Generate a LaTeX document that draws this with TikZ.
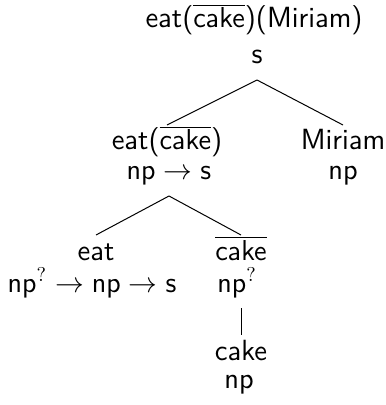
\documentclass[tikz,border=0pt]{standalone}
\renewcommand\familydefault{\sfdefault}
\begin{document}
\begin{tikzpicture}[x=0.5pt,y=-0.5pt,
  base/.style={anchor=base, inner sep=0pt, outer sep=0pt, font=\fontsize{14.6}{17}\selectfont},
  lab/.style={base, text height=12.5pt},
  typ/.style={base, text depth=8pt},
  edge/.style={draw=black, line width=0.5pt}]
\useasboundingbox (0,0) rectangle (385,405);
% root
\node[lab] (r)  at (254,28) {eat($\overline{\mathsf{cake}}$)(Miriam)};
\node[typ] (rt) at (257,64) {s};
% level 1
\node[lab] (ec)  at (167,150) {eat($\overline{\mathsf{cake}}$)};
\node[typ] (ect) at (169,180) {$\mathsf{np}\to\mathsf{s}$};
\node[lab] (mi)  at (343,150) {Miriam};
\node[typ] (mit) at (343,180) {np};
% level 2
\node[lab] (eat)  at (96,260) {eat};
\node[typ] (eatt) at (92,292) {$\mathsf{np}^?\to\mathsf{np}\to\mathsf{s}$};
\node[lab] (ck)   at (241,260) {$\overline{\mathsf{cake}}$};
\node[typ] (ckt)  at (237,292) {$\mathsf{np}^?$};
% level 3
\node[lab] (c)  at (241,360) {cake};
\node[typ] (ct) at (239,388) {np};
% edges
\draw[edge] (rt.south) -- (ec.north);
\draw[edge] (rt.south) -- (mi.north);
\draw[edge] (ect.south) -- (eat.north);
\draw[edge] (ect.south) -- (ck.north);
\draw[edge] (ckt.south -| ck.south) -- (c.north);
\end{tikzpicture}
\end{document}
